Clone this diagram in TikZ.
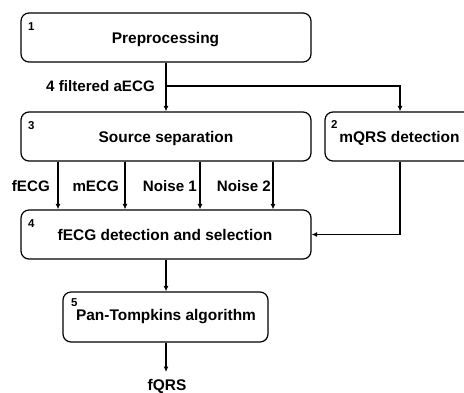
\documentclass[tikz,border=0pt]{standalone}
\usepackage{fontspec}
\setmainfont{Liberation Sans}
\usetikzlibrary{arrows.meta}
\begin{document}
\begin{tikzpicture}[x=1bp,y=-1bp,
  box/.style={draw=black,line width=1.2bp,rounded corners=8bp,inner sep=0pt},
  num/.style={font=\fontsize{11.5}{12}\selectfont\bfseries,inner sep=0pt,anchor=north west},
  txt/.style={font=\fontsize{15.5}{18}\selectfont\bfseries,inner sep=0pt,anchor=base},
  lbl/.style={font=\fontsize{15.2}{18}\selectfont\bfseries,inner sep=0pt,anchor=base east},
  arr/.style={line width=1.1bp,-{Latex[length=5.5bp,width=5bp]}}]
\useasboundingbox (0,0) rectangle (464,392);
% boxes
\node[box,minimum width=290bp,minimum height=49bp] (b1) at (166,37.5) {};
\node[box,minimum width=290bp,minimum height=49bp] (b3) at (166,136.5) {};
\node[box,minimum width=150bp,minimum height=49bp] (b2) at (400,136.5) {};
\node[box,minimum width=290bp,minimum height=49bp] (b4) at (166,234.5) {};
\node[box,minimum width=205bp,minimum height=50bp] (b5) at (165.5,317) {};
% numbers
\node[num] (n1) at (28,22) {1};
\node[num] (n3) at (28,121) {3};
\node[num] (n2) at (331,120) {2};
\node[num] (n4) at (28,219) {4};
\node[num] (n5) at (71,298) {5};
% texts
\node[txt] (t1) at (165.5,43.5) {Preprocessing};
\node[txt] (t3) at (166,142) {Source separation};
\node[txt] (t2) at (399.5,142) {mQRS detection};
\node[txt] (t4) at (165,240) {fECG detection and selection};
\node[txt] (t5) at (166,320) {Pan-Tompkins algorithm};
\node[txt] (fq) at (167,390) {fQRS};
% labels
\node[lbl] (l0) at (155,91) {4 filtered aECG};
\node[lbl] (l1) at (50,191.5) {fECG};
\node[lbl] (l2) at (119,191.5) {mECG};
\node[lbl] (l3) at (197,191.5) {Noise 1};
\node[lbl] (l4) at (271,191.5) {Noise 2};
% connectors
\coordinate (br) at (166,86);
\draw[arr] (b1.south) -- (b3.north);
\draw[arr] (br) -| (b2.north);
\draw[arr] (b3.south -| 58,0) -- (b4.north -| 58,0);
\draw[arr] (b3.south -| 125,0) -- (b4.north -| 125,0);
\draw[arr] (b3.south -| 200,0) -- (b4.north -| 200,0);
\draw[arr] (b3.south -| 273,0) -- (b4.north -| 273,0);
\draw[arr] (b2.south) |- (b4.east);
\draw[arr] (b4.south) -- (b4.south |- b5.north);
\coordinate (fe) at (166,372);
\draw[arr] (b5.south -| b4.south) -- (fe);
\end{tikzpicture}
\end{document}
